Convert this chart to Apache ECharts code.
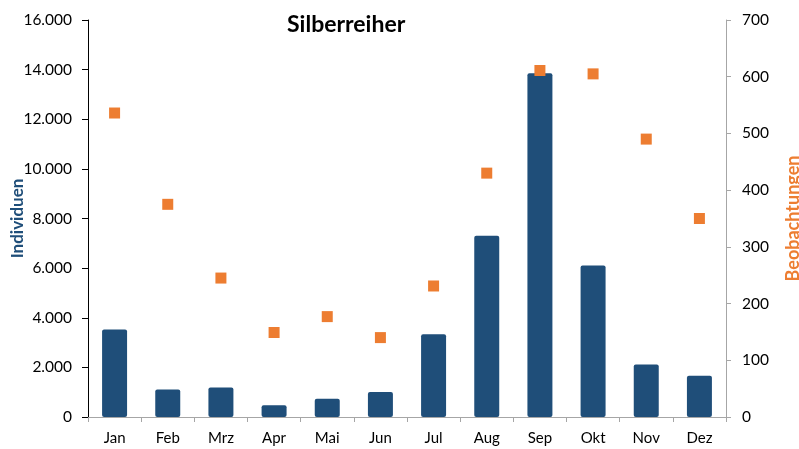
<!DOCTYPE html>
<html>
<head>
<meta charset="utf-8">
<script src="https://cdn.jsdelivr.net/npm/echarts@6/dist/echarts.min.js"></script>
<style>
  html, body { margin: 0; padding: 0; background: #fff; }
  #chart { width: 799px; height: 449px; }
</style>
</head>
<body>
<div id="chart"></div>
<script>
const months = ["Jan", "Feb", "Mrz", "Apr", "Mai", "Jun", "Jul", "Aug", "Sep", "Okt", "Nov", "Dez"];
const individuen = [3530, 1110, 1190, 470, 740, 1010, 3330, 7300, 13850, 6110, 2120, 1660];
const beobachtungen = [536, 375, 245, 149, 177, 140, 231, 430, 611, 605, 490, 350];

const FONT = "Lato, 'Open Sans', sans-serif";
const chart = echarts.init(document.getElementById("chart"));

function deNum(v) {
  return String(v).replace(/\B(?=(\d{3})+(?!\d))/g, ".");
}

chart.setOption({
  animation: false,
  textStyle: { fontFamily: FONT },
  title: {
    text: "Silberreiher",
    left: 282,
    top: 8,
    textStyle: { fontFamily: FONT, fontSize: 23, fontWeight: "bold", color: "#000" }
  },
  grid: { left: 88, right: 73, top: 20, bottom: 32, outerBoundsMode: "none", containLabel: false },
  xAxis: {
    type: "category",
    data: months,
    axisLine: { lineStyle: { color: "#a6a6a6" } },
    axisTick: { show: true, alignWithLabel: false, length: 5, lineStyle: { color: "#a6a6a6" } },
    axisLabel: { color: "#000", fontSize: 15, margin: 14 }
  },
  yAxis: [
    {
      type: "value",
      min: 0, max: 16000, interval: 2000,
      name: "Individuen",
      nameLocation: "middle",
      nameGap: 62,
      nameMoveOverlap: false,
      nameTextStyle: { color: "#1f4e79", fontWeight: "bold", fontSize: 17 },
      axisLine: { show: true, lineStyle: { color: "#000" } },
      axisTick: { show: true, length: 6, lineStyle: { color: "#000" } },
      axisLabel: { color: "#000", fontSize: 15.5, margin: 16, formatter: deNum },
      splitLine: { show: false }
    },
    {
      type: "value",
      min: 0, max: 700, interval: 100,
      name: "Beobachtungen",
      nameLocation: "middle",
      nameGap: 58,
      nameMoveOverlap: false,
      nameTextStyle: { color: "#ed7d31", fontWeight: "bold", fontSize: 18 },
      axisLine: { show: true, lineStyle: { color: "#a6a6a6" } },
      axisTick: { show: true, length: 5, lineStyle: { color: "#a6a6a6" } },
      axisLabel: { color: "#000", fontSize: 15.5, margin: 16 },
      splitLine: { show: false }
    }
  ],
  series: [
    {
      name: "Individuen",
      type: "bar",
      data: individuen,
      barWidth: "47%",
      itemStyle: { color: "#1f4e79", borderRadius: 2 }
    },
    {
      name: "Beobachtungen",
      type: "scatter",
      yAxisIndex: 1,
      data: beobachtungen,
      symbol: "rect",
      symbolSize: 11,
      itemStyle: { color: "#ed7d31", opacity: 1 }
    }
  ]
});
</script>
</body>
</html>
